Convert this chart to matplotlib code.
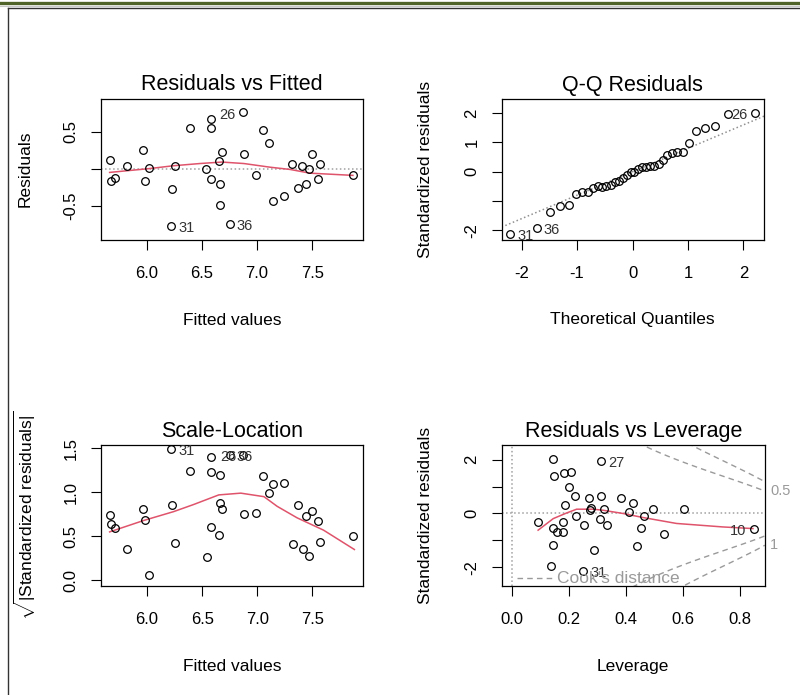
import numpy as np
import matplotlib
matplotlib.use('Agg')
import matplotlib.pyplot as plt
from matplotlib.lines import Line2D

plt.rcParams['font.family'] = ['Liberation Sans', 'DejaVu Sans']
plt.rcParams['mathtext.fontset'] = 'custom'
plt.rcParams['mathtext.rm'] = 'Liberation Sans'
plt.rcParams['mathtext.it'] = 'Liberation Sans:italic'

# fitted values (shared by Residuals vs Fitted and Scale-Location)
fitted = [5.66, 5.67, 5.71, 5.82, 5.96, 5.98, 6.02, 6.23, 6.25, 6.22, 6.39, 6.54,
          6.58, 6.58, 6.58, 6.65, 6.68, 6.66, 6.66, 6.75, 6.87, 6.88, 6.99, 7.05,
          7.11, 7.14, 7.24, 7.32, 7.37, 7.41, 7.44, 7.47, 7.50, 7.55, 7.57, 7.87]
resid = [0.12, -0.16, -0.12, 0.04, 0.25, -0.16, 0.01, -0.27, 0.04, -0.77, 0.55, -0.01,
         0.67, 0.55, -0.14, 0.10, 0.23, -0.20, -0.49, -0.75, 0.76, 0.20, -0.09, 0.52,
         0.35, -0.43, -0.37, 0.07, -0.26, 0.04, -0.21, 0.00, 0.20, -0.14, 0.07, -0.09]
sqrt_std_resid = [0.74, 0.64, 0.59, 0.36, 0.81, 0.69, 0.06, 0.86, 0.42, 1.49, 1.24, 0.26,
                  1.40, 1.23, 0.61, 0.51, 0.81, 1.20, 0.88, 1.42, 1.42, 0.75, 0.77, 1.18,
                  0.99, 1.09, 1.11, 0.41, 0.86, 0.36, 0.73, 0.28, 0.79, 0.67, 0.44, 0.50]
fitted_ids = {9: '31', 19: '36', 20: '26'}

# smoother lines
rf_smooth_x = [5.66, 6.01, 6.24, 6.48, 6.68, 6.88, 7.12, 7.30, 7.48, 7.87]
rf_smooth_y = [-0.05, 0.00, 0.04, 0.07, 0.09, 0.07, 0.02, -0.01, -0.06, -0.09]
sl_smooth_x = [5.66, 5.97, 6.24, 6.42, 6.65, 6.85, 7.06, 7.18, 7.36, 7.60, 7.88]
sl_smooth_y = [0.55, 0.68, 0.78, 0.86, 0.97, 0.99, 0.95, 0.84, 0.71, 0.57, 0.35]

# Q-Q residuals
qq_theo = [-2.20, -1.73, -1.48, -1.30, -1.15, -1.02, -0.91, -0.81, -0.72, -0.63, -0.55, -0.47,
           -0.39, -0.32, -0.25, -0.17, -0.10, -0.03, 0.03, 0.10, 0.17, 0.25, 0.32, 0.39,
           0.47, 0.55, 0.63, 0.72, 0.81, 0.91, 1.02, 1.15, 1.30, 1.48, 1.73, 2.20]
qq_sample = [-2.11, -1.93, -1.36, -1.18, -1.12, -0.75, -0.69, -0.70, -0.56, -0.50, -0.52, -0.48,
             -0.44, -0.36, -0.30, -0.22, -0.10, -0.02, 0.00, 0.09, 0.15, 0.15, 0.18, 0.20,
             0.27, 0.39, 0.58, 0.64, 0.69, 0.67, 0.98, 1.40, 1.49, 1.57, 1.98, 2.02]
qq_ids = {0: '31', 1: '36', 35: '26'}
qq_line = (0.0, 0.80)  # intercept, slope

# Residuals vs Leverage
leverage = [0.146, 0.148, 0.184, 0.207, 0.201, 0.222, 0.187, 0.226, 0.181, 0.093, 0.146, 0.158,
            0.181, 0.146, 0.137, 0.251, 0.254, 0.270, 0.280, 0.274, 0.289, 0.313, 0.313, 0.309,
            0.324, 0.333, 0.382, 0.426, 0.411, 0.464, 0.455, 0.441, 0.495, 0.533, 0.603, 0.848]
std_resid = [2.02, 1.39, 1.49, 1.55, 0.97, 0.66, 0.31, -0.09, -0.31, -0.31, -0.53, -0.68,
             -0.68, -1.18, -1.95, -2.13, -0.43, 0.59, 0.21, 0.12, -1.36, 1.96, 0.66, -0.22,
             0.18, -0.43, 0.59, 0.40, 0.04, -0.09, -0.53, -1.22, 0.15, -0.76, 0.18, -0.58]
lev_ids = {15: '31', 21: '27', 35: '10'}
lev_smooth_x = [0.093, 0.146, 0.193, 0.228, 0.286, 0.321, 0.391, 0.461, 0.578, 0.741, 0.846]
lev_smooth_y = [-0.62, -0.19, 0.02, 0.16, 0.16, 0.12, 0.00, -0.15, -0.37, -0.50, -0.56]
n_coef = 11
cook_levels = [0.5, 1]

RED = '#DF536B'
GREY = '#9a9a9a'
ID_COL = '#333333'


def style_axes(ax, title, xlabel, ylabel):
    """Common R-like look for one panel."""
    ax.set_title(title, fontsize=15.5, pad=6)
    ax.set_xlabel(xlabel, fontsize=12.5, va='center')
    ax.set_ylabel(ylabel, fontsize=12.5, va='center')
    ax.xaxis.set_label_coords(0.5, -0.57)
    ax.yaxis.set_label_coords(-0.29, 0.5)
    ax.tick_params(direction='out', length=7, width=0.8, labelsize=12)
    ax.tick_params(axis='x', pad=12)
    ax.tick_params(axis='y', pad=9)
    for lab in ax.get_yticklabels():
        lab.set_rotation(90)
        lab.set_va('center')
    for s in ax.spines.values():
        s.set_linewidth(0.9)


def points(ax, x, y):
    ax.plot(x, y, 'o', ms=5.5, mfc='none', mec='black', mew=0.9, zorder=3)


def label_ids(ax, x, y, ids, xmid):
    for i, txt in ids.items():
        right = x[i] < xmid
        ax.annotate(txt, (x[i], y[i]), xytext=(5 if right else -5, -1.5),
                    textcoords='offset points', ha='left' if right else 'right',
                    va='center', fontsize=10.5, color=ID_COL, annotation_clip=False)


fig = plt.figure(figsize=(8, 6.95), dpi=100)

# screenshot frame pieces
fig.add_artist(Line2D([0, 1], [1 - 3.2 / 695] * 2, transform=fig.transFigure,
                      color='#4F6228', lw=2.4))
fig.add_artist(Line2D([0, 1], [1 - 6.2 / 695] * 2, transform=fig.transFigure,
                      color='#c8c8c8', lw=0.8))
fig.add_artist(Line2D([8.3 / 800, 1], [1 - 8.0 / 695] * 2, transform=fig.transFigure,
                      color='#333333', lw=1.0))
fig.add_artist(Line2D([8.3 / 800] * 2, [0, 1 - 8.0 / 695], transform=fig.transFigure,
                      color='#333333', lw=1.0))

ax1 = fig.add_axes([0.126, 0.655, 0.3275, 0.203])
ax2 = fig.add_axes([0.627, 0.655, 0.328, 0.2025])
ax3 = fig.add_axes([0.126, 0.157, 0.328, 0.2025])
ax4 = fig.add_axes([0.627, 0.157, 0.329, 0.2025])

# Residuals vs Fitted
ax1.set_xlim(5.58, 7.96)
ax1.set_ylim(-0.96, 0.946)
ax1.axhline(0, color='#a0a0a0', ls=':', lw=1.1)
points(ax1, fitted, resid)
ax1.plot(rf_smooth_x, rf_smooth_y, color=RED, lw=1.1)
label_ids(ax1, fitted, resid, fitted_ids, 6.77)
ax1.set_xticks([6.0, 6.5, 7.0, 7.5])
ax1.set_xticklabels(['6.0', '6.5', '7.0', '7.5'])
ax1.set_yticks([-0.5, 0.0, 0.5])
ax1.set_yticklabels(['-0.5', '', '0.5'])
style_axes(ax1, 'Residuals vs Fitted', 'Fitted values', 'Residuals')

# Q-Q Residuals
ax2.set_xlim(-2.36, 2.37)
ax2.set_ylim(-2.32, 2.48)
lx = np.array(ax2.get_xlim())
ax2.plot(lx, qq_line[0] + qq_line[1] * lx, color='#909090', ls=':', lw=1.1)
points(ax2, qq_theo, qq_sample)
label_ids(ax2, qq_theo, qq_sample, qq_ids, 0.0)
ax2.set_xticks([-2, -1, 0, 1, 2])
ax2.set_xticklabels(['-2', '-1', '0', '1', '2'])
ax2.set_yticks([-2, -1, 0, 1, 2])
ax2.set_yticklabels(['-2', '', '0', '1', '2'])
style_axes(ax2, 'Q-Q Residuals', 'Theoretical Quantiles', 'Standardized residuals')

# Scale-Location
ax3.set_xlim(5.58, 7.96)
ax3.set_ylim(-0.063, 1.535)
points(ax3, fitted, sqrt_std_resid)
ax3.plot(sl_smooth_x, sl_smooth_y, color=RED, lw=1.1)
label_ids(ax3, fitted, sqrt_std_resid, fitted_ids, 6.77)
ax3.set_xticks([6.0, 6.5, 7.0, 7.5])
ax3.set_xticklabels(['6.0', '6.5', '7.0', '7.5'])
ax3.set_yticks([0.0, 0.5, 1.0, 1.5])
ax3.set_yticklabels(['0.0', '0.5', '1.0', '1.5'])
style_axes(ax3, 'Scale-Location', 'Fitted values',
           r'$\sqrt{|\mathrm{Standardized\ residuals}|}$')

# Residuals vs Leverage
ax4.set_xlim(-0.035, 0.8875)
ax4.set_ylim(-2.69, 2.54)
ax4.axhline(0, color='#a0a0a0', ls=':', lw=1.1)
ax4.axvline(0, color='#a0a0a0', ls=':', lw=1.1)
hh = np.linspace(0.01, ax4.get_xlim()[1], 101)
for lev in cook_levels:
    cl = np.sqrt(lev * n_coef * (1 - hh) / hh)
    ax4.plot(hh, cl, color=GREY, ls=(0, (4, 3)), lw=1.0)
    ax4.plot(hh, -cl, color=GREY, ls=(0, (4, 3)), lw=1.0)
points(ax4, leverage, std_resid)
ax4.plot(lev_smooth_x, lev_smooth_y, color=RED, lw=1.1)
label_ids(ax4, leverage, std_resid, lev_ids, 0.426)
ax4.plot([0.058, 0.195], [0.055, 0.055], transform=ax4.transAxes,
         color=GREY, ls=(0, (4, 3)), lw=1.0)
ax4.text(0.21, 0.055, "Cook's distance", transform=ax4.transAxes,
         fontsize=12.5, color=GREY, va='center', ha='left')
xr = ax4.get_xlim()[1]
ymult = np.sqrt(n_coef * (1 - xr) / xr)
ax4.text(1.02, np.sqrt(0.5) * ymult, '0.5', transform=ax4.get_yaxis_transform(),
         fontsize=10.5, color=GREY, va='center', ha='left')
ax4.text(1.02, -np.sqrt(1.0) * ymult, '1', transform=ax4.get_yaxis_transform(),
         fontsize=10.5, color=GREY, va='center', ha='left')
ax4.set_xticks([0.0, 0.2, 0.4, 0.6, 0.8])
ax4.set_xticklabels(['0.0', '0.2', '0.4', '0.6', '0.8'])
ax4.set_yticks([-2, -1, 0, 1, 2])
ax4.set_yticklabels(['-2', '', '0', '', '2'])
style_axes(ax4, 'Residuals vs Leverage', 'Leverage', 'Standardized residuals')

fig.savefig('out.png', dpi=100)
